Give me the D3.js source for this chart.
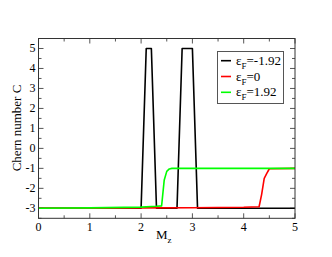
<!DOCTYPE html>
<html><head><meta charset="utf-8">
<script src="https://cdn.jsdelivr.net/npm/d3@7"></script>
<style>body{margin:0;background:#fff}svg{display:block}</style>
</head><body>
<script>
const xTicks=[0,1,2,3,4,5];
const yTicks=[-3,-2,-1,0,1,2,3,4,5];
const seriesNames=["-1.92","0","1.92"];
const seriesColors=["#000000","#ff0000","#00ff00"];
const blackX=[0,1,2.0,2.1,2.2,2.3,2.7,2.8,3.0,3.1,4,5];
const blackY=[-3,-3,-3,5,5,-3,-3,5,5,-3,-3,-3];
const redX=[0,1,2,3,4,4.3,4.35,4.4,4.45,4.5,5];
const redY=[-3,-2.99,-2.98,-2.97,-2.95,-2.92,-2.3,-1.5,-1.25,-1.02,-1.0];
const greenX=[0,1,2,2.3,2.4,2.45,2.5,2.55,2.6,3,4,5];
const greenY=[-3,-2.98,-2.94,-2.9,-2.88,-1.6,-1.15,-1.03,-1.0,-1.0,-1.0,-1.0];

const FONT="'Liberation Serif','Times New Roman',Times,serif";
const W=332,H=257;
const svg=d3.select("body").append("svg").attr("width",W).attr("height",H).attr("font-family",FONT);
const L=38.5,R=295,T=38.5,B=218.3;
const x=d3.scaleLinear().domain([0,5]).range([L,R]);
const y=d3.scaleLinear().domain([-3.5,5.5]).range([B,T]);

const minorX=d3.range(0,5.01,0.5).filter(v=>!xTicks.includes(v));
const minorY=d3.range(-3.5,5.51,0.5).filter(v=>!yTicks.includes(v));
const g=svg.append("g");
const tg=g.append("g").attr("stroke","#555").attr("stroke-width",1);
xTicks.forEach(v=>{tg.append("line").attr("x1",x(v)).attr("x2",x(v)).attr("y1",B).attr("y2",B-5);
  tg.append("line").attr("x1",x(v)).attr("x2",x(v)).attr("y1",T).attr("y2",T+5);});
minorX.forEach(v=>{tg.append("line").attr("x1",x(v)).attr("x2",x(v)).attr("y1",B).attr("y2",B-3);
  tg.append("line").attr("x1",x(v)).attr("x2",x(v)).attr("y1",T).attr("y2",T+3);});
yTicks.forEach(v=>{tg.append("line").attr("y1",y(v)).attr("y2",y(v)).attr("x1",L).attr("x2",L+5);
  tg.append("line").attr("y1",y(v)).attr("y2",y(v)).attr("x1",R).attr("x2",R-5);});
minorY.forEach(v=>{tg.append("line").attr("y1",y(v)).attr("y2",y(v)).attr("x1",L).attr("x2",L+3);
  tg.append("line").attr("y1",y(v)).attr("y2",y(v)).attr("x1",R).attr("x2",R-3);});

const line=d3.line().x(d=>x(d[0])).y(d=>y(d[1]));
const data=[d3.zip(blackX,blackY),d3.zip(redX,redY),d3.zip(greenX,greenY)];
data.forEach((d,i)=>{
  g.append("path").attr("d",line(d)).attr("fill","none").attr("stroke",seriesColors[i]).attr("stroke-width",1.6).attr("stroke-linejoin","round");
});

g.append("rect").attr("x",L).attr("y",T).attr("width",R-L).attr("height",B-T).attr("fill","none").attr("stroke","#333").attr("stroke-width",1);

xTicks.forEach(v=>g.append("text").attr("x",x(v)).attr("y",B+13).attr("text-anchor","middle").attr("font-size",12).text(v));
yTicks.forEach(v=>g.append("text").attr("x",L-3).attr("y",y(v)+4).attr("text-anchor","end").attr("font-size",12).text(v));

const xt=g.append("text").attr("x",156).attr("y",239).attr("font-size",13);
xt.append("tspan").text("M");
xt.append("tspan").attr("font-size",9).attr("dy",4).text("z");
g.append("text").attr("transform","translate(21,128) rotate(-90)").attr("text-anchor","middle").attr("font-size",13).text("Chern number C");

g.append("rect").attr("x",217.5).attr("y",51.5).attr("width",66).attr("height",52).attr("fill","#fff").attr("stroke","#555").attr("stroke-width",1);
const rowsY=[60.7,76.5,92.3];
seriesNames.forEach((n,i)=>{
  g.append("line").attr("x1",221).attr("x2",231).attr("y1",rowsY[i]).attr("y2",rowsY[i]).attr("stroke",seriesColors[i]).attr("stroke-width",1.6);
  const t=g.append("text").attr("x",236).attr("y",rowsY[i]+4).attr("font-size",13);
  t.append("tspan").text("ε");
  t.append("tspan").attr("font-size",9).attr("dy",4).text("F");
  t.append("tspan").attr("dy",-4).text("="+n);
});
</script>
</body></html>
